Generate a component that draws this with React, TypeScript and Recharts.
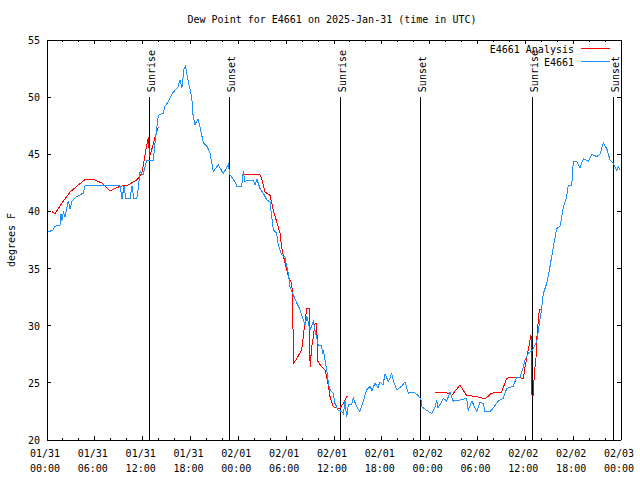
import {
  LineChart,
  Line,
  XAxis,
  YAxis,
  ReferenceLine,
} from "recharts";

// hours since 01/31 00:00 UTC, dew point in °F
const blueHours = [
  0.16, 0.79, 1.0, 1.63, 1.76, 1.88, 2.05, 2.26, 2.67, 2.89, 3.14, 3.73, 4.55,
  4.77, 9.16, 9.41, 9.66, 9.91, 10.41, 10.66, 10.91, 11.25, 11.45, 11.67, 12.04,
  12.5, 13.33, 13.55, 13.96, 14.59, 14.8, 15.22, 15.68, 16.06, 16.43, 16.68,
  16.93, 17.19, 17.37, 17.69, 18.15, 18.31, 18.56, 18.94, 19.19, 19.61, 20.07,
  20.45, 20.86, 21.49, 22.11, 22.74, 22.96, 23.58, 23.8, 24.42, 24.62, 24.84,
  25.25, 25.88, 26.09, 26.34, 26.72, 27.13, 27.56, 27.97, 28.19, 28.39, 28.81,
  29.01, 29.44, 29.85, 29.98, 30.27, 30.48, 30.9, 31.32, 31.74, 32.15, 32.36,
  32.61, 32.99, 33.4, 33.62, 34.03, 34.46, 34.56, 34.66, 34.87, 35.09, 35.29,
  35.5, 35.91, 36.12, 36.54, 36.97, 37.17, 37.38, 37.59, 37.79, 38.22, 38.42,
  38.85, 39.26, 39.68, 40.1, 40.52, 40.77, 41.14, 41.52, 41.77, 42.15, 42.4,
  42.81, 43.24, 43.53, 43.87, 44.49, 44.91, 45.32, 45.95, 46.57, 46.91, 47.0,
  47.63, 48.26, 48.67, 48.88, 49.05, 49.3, 49.71, 50.14, 50.55, 50.96, 51.8,
  52.64, 52.84, 53.3, 53.9, 54.31, 54.73, 54.94, 55.57, 55.98, 56.61, 57.24,
  57.66, 58.49, 58.91, 59.33, 59.75, 59.96, 60.37, 60.93, 61.43, 61.63, 62.05,
  62.25, 62.68, 63.1, 63.51, 63.94, 64.35, 64.56, 64.76, 65.19, 65.39, 65.82,
  66.02, 66.45, 66.86, 67.27, 67.9, 68.33, 68.95, 69.37, 69.78, 70.21, 70.62,
  71.04, 71.46, 71.67, 71.88,
];
const blueValues = [
  38.2, 38.4, 38.7, 38.8, 39.8, 39.2, 40.0, 39.5, 40.9, 40.2, 40.9, 41.3, 41.6,
  42.25, 42.25, 41.1, 42.2, 41.1, 41.1, 42.2, 41.1, 41.1, 42.0, 43.5, 43.2,
  44.5, 44.5, 46.0, 48.4, 48.6, 49.2, 49.6, 50.3, 50.6, 50.9, 51.5, 50.8, 52.5,
  52.7, 51.5, 50.0, 48.5, 47.6, 48.1, 47.4, 46.0, 45.7, 45.1, 43.5, 44.1, 43.3,
  44.1, 43.2, 42.6, 42.2, 42.2, 43.5, 42.6, 42.75, 42.75, 42.3, 42.8, 42.0,
  41.6, 41.0, 40.85, 39.5, 38.4, 38.1, 37.1, 36.2, 36.0, 35.5, 34.6, 33.4,
  32.7, 32.0, 31.4, 30.5, 30.1, 30.8, 29.6, 30.4, 29.6, 28.3, 28.3, 27.5, 27.9,
  27.0, 26.1, 25.0, 24.4, 24.1, 23.2, 22.6, 22.5, 22.3, 23.4, 22.0, 23.1, 23.1,
  23.65, 22.9, 22.5, 23.4, 24.4, 24.7, 24.3, 25.0, 24.6, 25.1, 24.8, 25.8,
  25.1, 25.8, 25.0, 24.4, 24.7, 25.1, 24.1, 24.2, 23.9, 23.5, 22.9, 22.6, 22.3,
  22.9, 23.5, 22.8, 23.1, 23.65, 23.4, 24.2, 23.4, 23.5, 23.65, 22.6, 23.4,
  22.5, 23.3, 23.2, 22.5, 22.5, 22.8, 23.4, 23.65, 24.5, 24.7, 25.5, 25.5, 26.4,
  27.0, 27.6, 27.9, 28.6, 29.6, 31.5, 32.8, 33.7, 35.2, 36.9, 38.5, 38.7, 39.5,
  40.4, 41.3, 42.3, 42.3, 44.4, 44.4, 43.8, 44.6, 44.4, 45.0, 44.8, 45.0, 46.0,
  45.5, 44.5, 44.2, 43.6, 43.9, 43.6,
];

// null = gap in the analysis series
const redHours = [
  0.59, 1.0, 1.84, 2.89, 3.73, 4.77, 5.81, 6.86, 7.9, 9.16, 10.16, 11.25, 11.88,
  12.17, 12.42, 12.71, 12.86, 13.17, 13.55, 13.96, 20, 24.62, 26.72, 26.93,
  27.35, 27.97, 28.39, 28.81, 29.23, 29.44, 29.85, 30.27, 30.69, 30.82, 30.9,
  31.32, 31.95, 32.24, 32.58, 32.91, 33.0, 33.21, 33.4, 33.62, 33.83, 33.96,
  34.46, 34.87, 35.09, 35.29, 35.5, 35.91, 36.34, 36.75, 37.17, 37.59, 37.79,
  43, 48.67, 49.92, 50.76, 51.8, 52.64, 53.9, 54.94, 55.78, 57.03, 57.66, 58.49,
  59.75, 59.96, 60.37, 60.71, 60.84, 61.0, 61.13, 61.34, 61.43, 61.63, 61.76,
  61.93,
];
const redValues = [
  40.0, 39.8, 40.7, 41.7, 42.2, 42.8, 42.8, 42.5, 41.8, 42.2, 42.3, 42.75, 43.3,
  44.4, 45.5, 46.5, 44.8, 45.5, 46.5, 47.4, null, 43.2, 43.2, 42.9, 41.7, 41.4,
  40.1, 39.1, 38.1, 36.8, 35.5, 34.3, 33.7, 32.5, 26.7, 27.1, 27.9, 29.6, 31.5,
  31.5, 26.4, 28.2, 29.0, 30.2, 30.2, 26.9, 26.4, 26.1, 25.5, 24.7, 23.8, 22.9,
  22.8, 22.8, 23.2, 23.8, 23.8, null, 24.2, 24.2, 23.9, 24.8, 23.9, 23.8, 23.6,
  24.1, 24.2, 25.4, 25.5, 25.4, 26.4, 27.9, 29.2, 23.9, 23.9, 25.8, 27.2, 28.8,
  30.5, 31.4, 31.4,
];

const sunriseHours = [12.83, 36.79, 60.88];
const sunsetHours = [22.87, 46.91, 71.04];

const xMajorHours = [0, 6, 12, 18, 24, 30, 36, 42, 48, 54, 60, 66, 72];
const xDateLabels = [
  "01/31", "01/31", "01/31", "01/31", "02/01", "02/01", "02/01", "02/01",
  "02/02", "02/02", "02/02", "02/02", "02/03",
];
const xTimeLabels = [
  "00:00", "06:00", "12:00", "18:00", "00:00", "06:00", "12:00", "18:00",
  "00:00", "06:00", "12:00", "18:00", "00:00",
];
const yTicks = [20, 25, 30, 35, 40, 45, 50, 55];

const blueData = blueHours.map((h, i) => ({ h, v: blueValues[i] }));
const redData = redHours.map((h, i) => ({ h, v: redValues[i] }));
const xTicks = Array.from({ length: 37 }, (_, i) => i * 2);

const FONT = '"DejaVu Sans Mono", "Liberation Mono", monospace';
const RED = "#ff0000";
const BLUE = "#1e90ff";

const BottomTick = (props: any) => {
  const { x, y, payload } = props;
  const idx = xMajorHours.indexOf(payload.value);
  const len = idx >= 0 ? 4 : 2;
  return (
    <g>
      <line x1={x} y1={y} x2={x} y2={y - len} stroke="#000" shapeRendering="crispEdges" />
      {idx >= 0 && (
        <text x={x - 2} y={y + 17} textAnchor="middle" fontSize={10} fontFamily={FONT} fill="#000">
          <tspan x={x - 2}>{xDateLabels[idx]}</tspan>
          <tspan x={x - 2} dy={14.5}>{xTimeLabels[idx]}</tspan>
        </text>
      )}
    </g>
  );
};

const TopTick = (props: any) => {
  const { x, y, payload } = props;
  const len = xMajorHours.includes(payload.value) ? 4 : 2;
  return <line x1={x} y1={y} x2={x} y2={y + len} stroke="#000" shapeRendering="crispEdges" />;
};

const LeftTick = (props: any) => {
  const { x, y, payload } = props;
  return (
    <g>
      <line x1={x} y1={y} x2={x + 4} y2={y} stroke="#000" shapeRendering="crispEdges" />
      <text x={x - 7} y={y + 4} textAnchor="end" fontSize={10} fontFamily={FONT} fill="#000">
        {payload.value}
      </text>
    </g>
  );
};

const RightTick = (props: any) => {
  const { x, y } = props;
  return <line x1={x} y1={y} x2={x - 4} y2={y} stroke="#000" shapeRendering="crispEdges" />;
};

const markerLabel = (text: string) => (props: any) => {
  const vb = props.viewBox || {};
  const tx = vb.x + 5.5;
  const ty = vb.y - 5;
  return (
    <text
      x={tx}
      y={ty}
      transform={`rotate(-90, ${tx}, ${ty})`}
      textAnchor="start"
      fontSize={10}
      fontFamily={FONT}
      fill="#000"
    >
      {text}
    </text>
  );
};

const App = () => {
  return (
    <div
      style={{
        position: "absolute",
        left: 0,
        top: 0,
        width: 640,
        height: 480,
        background: "#fff",
        fontFamily: FONT,
      }}
    >
      <div
        style={{
          position: "absolute",
          top: 13,
          left: 0,
          width: 664,
          textAlign: "center",
          fontSize: 10,
          lineHeight: "14px",
        }}
      >
        Dew Point for E4661 on 2025-Jan-31 (time in UTC)
      </div>
      <div
        style={{
          position: "absolute",
          left: 11,
          top: 240,
          transform: "translate(-50%, -50%) rotate(-90deg)",
          fontSize: 10,
          whiteSpace: "nowrap",
        }}
      >
        degrees F
      </div>
      <LineChart
        width={640}
        height={480}
        margin={{ top: 0, right: 0, bottom: 0, left: 0 }}
        style={{ position: "absolute", left: 0, top: 0 }}
      >
        <XAxis
          dataKey="h"
          type="number"
          domain={[0, 72]}
          ticks={xTicks}
          interval={0}
          height={40}
          tickSize={0}
          tickMargin={0}
          tick={<BottomTick />}
          axisLine={{ stroke: "#000", shapeRendering: "crispEdges" }}
          allowDataOverflow
        />
        <XAxis
          xAxisId="top"
          orientation="top"
          dataKey="h"
          type="number"
          domain={[0, 72]}
          ticks={xTicks}
          interval={0}
          height={40}
          tickSize={0}
          tickMargin={0}
          tick={<TopTick />}
          axisLine={{ stroke: "#000", shapeRendering: "crispEdges" }}
          allowDataOverflow
        />
        <YAxis
          type="number"
          domain={[20, 55]}
          ticks={yTicks}
          interval={0}
          width={47}
          tickSize={0}
          tickMargin={0}
          tick={<LeftTick />}
          axisLine={{ stroke: "#000", shapeRendering: "crispEdges" }}
          allowDataOverflow
        />
        <YAxis
          yAxisId="right"
          orientation="right"
          type="number"
          domain={[20, 55]}
          ticks={yTicks}
          interval={0}
          width={19}
          tickSize={0}
          tickMargin={0}
          tick={<RightTick />}
          axisLine={{ stroke: "#000", shapeRendering: "crispEdges" }}
          allowDataOverflow
        />
        {sunriseHours.map((h) => (
          <ReferenceLine
            key={`sr-${h}`}
            segment={[{ x: h, y: 20 }, { x: h, y: 50 }]}
            stroke="#000"
            strokeWidth={1}
            shapeRendering="crispEdges"
            label={markerLabel("Sunrise")}
          />
        ))}
        {sunsetHours.map((h) => (
          <ReferenceLine
            key={`ss-${h}`}
            segment={[{ x: h, y: 20 }, { x: h, y: 50 }]}
            stroke="#000"
            strokeWidth={1}
            shapeRendering="crispEdges"
            label={markerLabel("Sunset")}
          />
        ))}
        <Line
          data={redData}
          dataKey="v"
          type="linear"
          stroke={RED}
          strokeWidth={1}
          shapeRendering="crispEdges"
          dot={false}
          activeDot={false}
          connectNulls={false}
          isAnimationActive={false}
        />
        <Line
          data={blueData}
          dataKey="v"
          type="linear"
          stroke={BLUE}
          strokeWidth={1}
          shapeRendering="crispEdges"
          dot={false}
          activeDot={false}
          isAnimationActive={false}
        />
      </LineChart>
      <div
        style={{
          position: "absolute",
          right: 66,
          top: 43,
          fontSize: 10,
          lineHeight: "13px",
          textAlign: "right",
          whiteSpace: "nowrap",
        }}
      >
        <div>E4661 Analysis</div>
        <div>E4661</div>
      </div>
      <div style={{ position: "absolute", left: 581, top: 48, width: 29, height: 1, background: RED }} />
      <div style={{ position: "absolute", left: 581, top: 61, width: 29, height: 1, background: BLUE }} />
    </div>
  );
};

export default App;
